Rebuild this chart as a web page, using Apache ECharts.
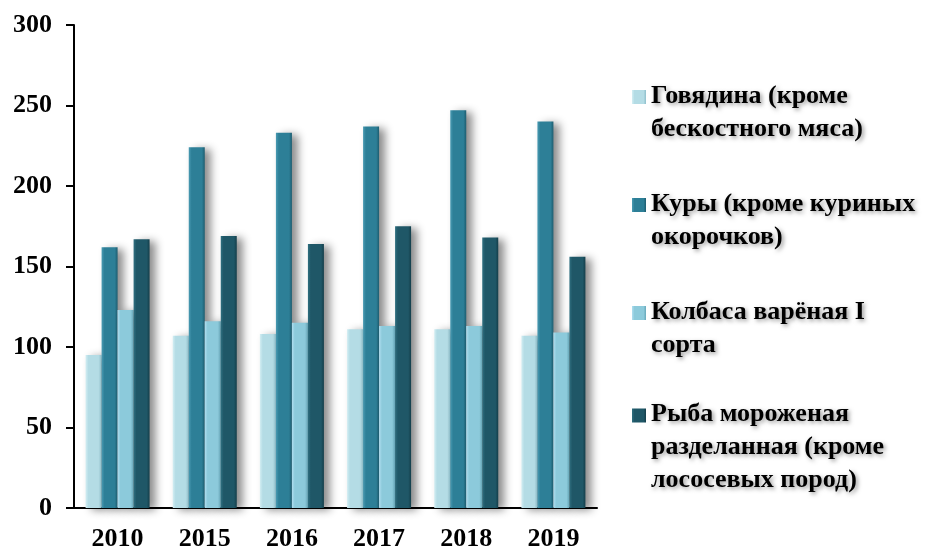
<!DOCTYPE html>
<html>
<head>
<meta charset="utf-8">
<script src="https://cdn.jsdelivr.net/npm/echarts@6/dist/echarts.min.js"></script>
<style>
  html, body { margin: 0; padding: 0; background: #fff; }
  #chart { width: 926px; height: 549px; }
</style>
</head>
<body>
<div id="chart"></div>
<script>
// годы
var years = ["2010", "2015", "2016", "2017", "2018", "2019"];
// названия рядов
var names = [
  "Говядина (кроме\nбескостного мяса)",
  "Куры (кроме куриных\nокорочков)",
  "Колбаса варёная I\nсорта",
  "Рыба мороженая\nразделанная (кроме\nлососевых пород)"
];
// значения
var beef = [95, 107, 108, 111, 111, 107];
var chicken = [162, 224, 233, 237, 247, 240];
var sausage = [123, 116, 115, 113, 113, 109];
var fish = [167, 169, 164, 175, 168, 156];
var yTicks = { min: 0, max: 300, step: 50 };

var font = "Liberation Serif";
var myChart = echarts.init(document.getElementById("chart"));

// цвета: светлый край, основа, тёмный край
var palette = [
  ["#d3eef3", "#b4dce5", "#8fbfcb"],
  ["#4a9bb3", "#2d7f97", "#1d5d70"],
  ["#b0def0", "#8ccadb", "#67a8ba"],
  ["#2f6f80", "#1f5767", "#143e4a"]
];

function barColor(c) {
  return new echarts.graphic.LinearGradient(0, 0, 1, 0, [
    { offset: 0, color: c[0] },
    { offset: 0.18, color: c[1] },
    { offset: 0.82, color: c[1] },
    { offset: 1, color: c[2] }
  ]);
}

// иконка легенды: квадрат на уровне первой строки текста
var iconMid = "path://M0,0L0.01,0M0,16L14,16L14,30L0,30ZM0,78L0.01,78";
var iconTop = "path://M0,0L14,0L14,14L0,14ZM0,78L0.01,78";

function makeSeries(idx, data) {
  return {
    name: names[idx],
    type: "bar",
    data: data,
    barWidth: 16,
    barGap: "0%",
    itemStyle: {
      color: barColor(palette[idx]),
      shadowColor: "rgba(0,0,0,0.45)",
      shadowBlur: 9,
      shadowOffsetX: 6,
      shadowOffsetY: 2
    }
  };
}

myChart.setOption({
  animation: false,
  grid: {
    left: 74,
    right: 329,
    top: 25,
    bottom: 41,
    containLabel: false,
    outerBoundsMode: "none"
  },
  legend: {
    orient: "vertical",
    left: 632,
    top: 74,
    padding: 0,
    itemGap: 30,
    itemWidth: 14,
    itemHeight: 78,
    data: [
      { name: names[0], icon: iconMid },
      { name: names[1], icon: iconMid },
      { name: names[2], icon: iconMid },
      { name: names[3], icon: iconTop }
    ],
    textStyle: {
      fontFamily: font,
      fontWeight: "bold",
      fontSize: 26,
      lineHeight: 33,
      color: "#000",
      textShadowColor: "rgba(0,0,0,0.4)",
      textShadowBlur: 4,
      textShadowOffsetX: 2,
      textShadowOffsetY: 2
    }
  },
  xAxis: {
    type: "category",
    data: years,
    axisLine: { lineStyle: { color: "#000", width: 2 } },
    axisTick: { length: 6, lineStyle: { color: "#000", width: 2 } },
    axisLabel: {
      margin: 18,
      fontFamily: font,
      fontWeight: "bold",
      fontSize: 26,
      color: "#000"
    }
  },
  yAxis: {
    type: "value",
    min: yTicks.min,
    max: yTicks.max,
    interval: yTicks.step,
    splitLine: { show: false },
    axisLine: { show: true, lineStyle: { color: "#000", width: 2 } },
    axisTick: { show: true, length: 8, lineStyle: { color: "#000", width: 2 } },
    axisLabel: {
      margin: 22,
      fontFamily: font,
      fontWeight: "bold",
      fontSize: 26,
      color: "#000"
    }
  },
  series: [
    makeSeries(0, beef),
    makeSeries(1, chicken),
    makeSeries(2, sausage),
    makeSeries(3, fish)
  ]
});
</script>
</body>
</html>
